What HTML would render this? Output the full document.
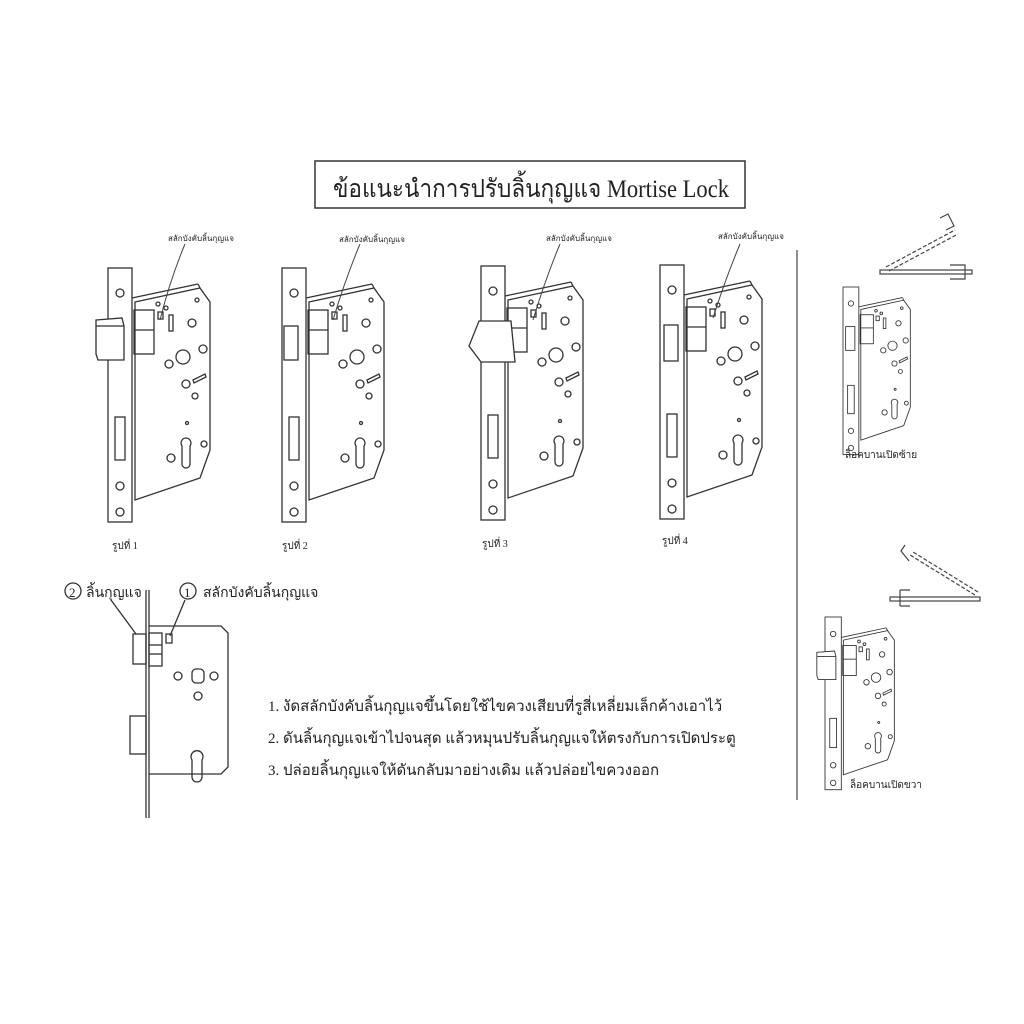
<!DOCTYPE html>
<html><head><meta charset="utf-8"><style>
html,body{margin:0;padding:0;background:#fff;}
svg{display:block;}
text{font-family:"Liberation Serif","DejaVu Sans",serif;fill:#222;}
.s{font-family:"DejaVu Sans","Liberation Sans",sans-serif;}
</style></head><body>
<svg width="1024" height="1024" viewBox="0 0 1024 1024" xmlns="http://www.w3.org/2000/svg">
<defs>
<g id="lock" fill="none" stroke="#333" stroke-width="1.3">
  <polygon points="27,34 92,20 102,34 102,182 92,210 27,232" fill="#fff"/>
  <line x1="24" y1="30" x2="90" y2="16"/><line x1="90" y1="16" x2="92" y2="20"/>
  <rect x="0" y="0" width="24" height="254" fill="#fff"/>
  <rect x="7" y="149" width="10" height="43"/>
  <circle cx="12" cy="25" r="4"/><circle cx="12" cy="218" r="4"/><circle cx="12" cy="244" r="4"/>
  <rect x="26" y="42" width="20" height="44"/><line x1="26" y1="62" x2="46" y2="62"/>
  <rect x="50" y="44" width="5" height="7"/>
  <circle cx="89" cy="32" r="2"/><circle cx="50" cy="36" r="2"/><circle cx="58" cy="40" r="2"/>
  <rect x="61" y="47" width="4" height="16"/>
  <circle cx="84" cy="55" r="4"/><circle cx="75" cy="89" r="7"/><circle cx="95" cy="81" r="4"/>
  <circle cx="61" cy="96" r="4"/><circle cx="78" cy="116" r="4"/><circle cx="87" cy="128" r="3"/>
  <polygon points="85,112 97,106 98,109 86,115"/>
  <circle cx="79" cy="155" r="1.5"/>
  <path d="M74,178 a5,5 0 1 1 8,0 l0,18 a4,4 0 0 1 -8,0 z"/>
  <circle cx="63" cy="190" r="4"/><circle cx="96" cy="176" r="3"/>
</g>
<g id="latch" fill="#fff" stroke="#333" stroke-width="1.3">
  <polygon points="-12,52 14,50 16,58 16,92 -10,92 -12,86"/>
  <line x1="-12" y1="58" x2="16" y2="58"/>
</g>
</defs>

<rect x="315" y="161" width="430" height="47" fill="none" stroke="#333" stroke-width="1.5"/>
<text x="333" y="197" font-size="25" textLength="396" lengthAdjust="spacingAndGlyphs">ข้อแนะนำการปรับลิ้นกุญแจ Mortise Lock</text>

<g transform="translate(108,268)"><use href="#lock"/><use href="#latch"/></g>
<g transform="translate(282,268)"><use href="#lock"/><rect x="2" y="58" width="14" height="34" fill="#fff" stroke="#333" stroke-width="1.3"/></g>
<g transform="translate(481,266)"><use href="#lock"/><polygon points="-2,55 30,55 34,96 0,96 -12,80" fill="#fff" stroke="#333" stroke-width="1.3"/></g>
<g transform="translate(660,265)"><use href="#lock"/><rect x="4" y="60" width="14" height="36" fill="#fff" stroke="#333" stroke-width="1.3"/></g>

<g fill="none" stroke="#444" stroke-width="1">
<path d="M185,244 Q170,280 160,320"/><path d="M360,244 Q345,280 333,320"/>
<path d="M560,244 Q545,280 533,320"/><path d="M740,244 Q725,280 713,318"/>
</g>
<g class="s" font-size="8">
<text x="168" y="241">สลักบังคับลิ้นกุญแจ</text><text x="339" y="242">สลักบังคับลิ้นกุญแจ</text>
<text x="546" y="241">สลักบังคับลิ้นกุญแจ</text><text x="718" y="239">สลักบังคับลิ้นกุญแจ</text>
</g>
<g class="s" font-size="10">
<text x="112" y="549">รูปที่ 1</text><text x="282" y="549">รูปที่ 2</text>
<text x="482" y="547">รูปที่ 3</text><text x="662" y="544">รูปที่ 4</text>
</g>

<line x1="797" y1="250" x2="797" y2="800" stroke="#444" stroke-width="1.2"/>

<g transform="translate(843,287) scale(0.66)"><use href="#lock"/><rect x="4" y="60" width="14" height="36" fill="#fff" stroke="#333" stroke-width="1.3"/></g>
<g transform="translate(825,617) scale(0.68)"><use href="#lock"/><use href="#latch"/></g>
<text class="s" x="845" y="458" font-size="10">ล็อคบานเปิดซ้าย</text>
<text class="s" x="850" y="788" font-size="10">ล็อคบานเปิดขวา</text>

<g fill="none" stroke="#444" stroke-width="1.2">
<rect x="880" y="270" width="92" height="4"/><path d="M950,265 h15 v14 h-15"/>
<path d="M886,267 L955,230 M889,271 L958,234" stroke-dasharray="4,2"/><path d="M940,218 l8,-4 l6,12 l-8,4"/>
<rect x="890" y="597" width="90" height="4"/><path d="M900,590 v16 M900,590 h10 M900,606 h10"/>
<path d="M975,595 L910,555 M978,592 L913,552" stroke-dasharray="4,2"/><path d="M905,545 l-4,6 l8,10"/>
</g>

<g fill="none" stroke="#333" stroke-width="1.3">
<line x1="146" y1="590" x2="146" y2="818"/><line x1="149" y1="590" x2="149" y2="818"/>
<path d="M149,626 H221 L228,633 V767 L221,774 H149"/>
<rect x="133" y="634" width="13" height="30"/>
<rect x="149" y="633" width="13" height="33"/><line x1="149" y1="645" x2="162" y2="645"/><line x1="149" y1="654" x2="162" y2="654"/>
<rect x="166" y="634" width="6" height="9"/>
<rect x="130" y="716" width="16" height="38"/>
<circle cx="178" cy="676" r="4"/><circle cx="214" cy="676" r="4"/><circle cx="198" cy="696" r="4"/>
<rect x="192" y="669" width="12" height="14" rx="4"/>
<path d="M192,760 a6,6 0 1 1 10,0 l0,17 a5,5 0 0 1 -10,0 z"/>
<circle cx="73" cy="591" r="8"/><circle cx="188" cy="591" r="8"/>
<line x1="111" y1="600" x2="136" y2="634"/><line x1="185" y1="600" x2="170" y2="636"/>
</g>
<text x="69" y="597" font-size="13">2</text><text x="184" y="597" font-size="13">1</text>
<text class="s" x="86" y="597" font-size="14">ลิ้นกุญแจ</text>
<text class="s" x="203" y="597" font-size="14">สลักบังคับลิ้นกุญแจ</text>

<g class="s" font-size="15">
<text x="268" y="711">1. งัดสลักบังคับลิ้นกุญแจขึ้นโดยใช้ไขควงเสียบที่รูสี่เหลี่ยมเล็กค้างเอาไว้</text>
<text x="268" y="743">2. ดันลิ้นกุญแจเข้าไปจนสุด แล้วหมุนปรับลิ้นกุญแจให้ตรงกับการเปิดประตู</text>
<text x="268" y="775">3. ปล่อยลิ้นกุญแจให้ดันกลับมาอย่างเดิม แล้วปล่อยไขควงออก</text>
</g>
</svg>
</body></html>
